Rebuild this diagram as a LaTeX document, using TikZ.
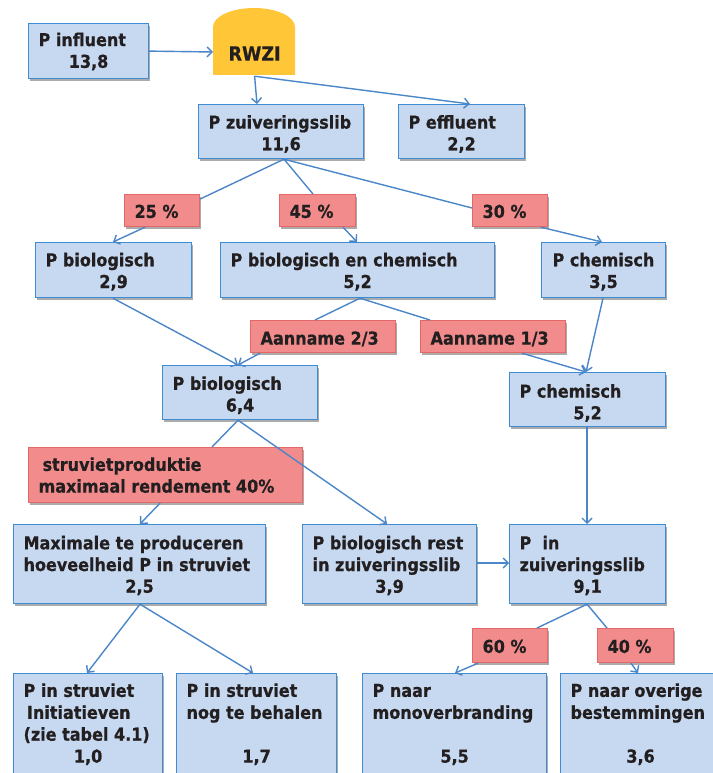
\documentclass[tikz,border=0pt]{standalone}
\usepackage{fontspec}
\newfontfamily\dfont{DejaVu Sans}[FakeStretch=0.9, BoldFeatures={FakeBold=0.6}]
\usetikzlibrary{arrows.meta,shadows,calc}
\definecolor{bfill}{RGB}{198,217,240}
\definecolor{bline}{RGB}{62,141,212}
\definecolor{rfill}{RGB}{242,140,140}
\definecolor{rline}{RGB}{228,104,104}
\definecolor{lcol}{RGB}{74,134,200}
\definecolor{gold}{RGB}{255,199,56}
\definecolor{tcol}{RGB}{35,31,32}
\newcommand\Ln[2][0pt]{\hbox to\linewidth{\kern#1\relax#2\hss}}
\newcommand\Cn[1]{\hbox to\linewidth{\hss#1\hss}}
\newcommand\T[2]{\vtop{\hsize=#1pt\linewidth=#1pt\relax#2}}
\begin{document}
\begin{tikzpicture}[x=1pt,y=-1pt,
  nbase/.style={anchor=north west, inner xsep=10pt, inner ysep=0pt, text=tcol, line width=1.2pt,
     font=\dfont\bfseries\fontsize{17.8}{21.7}\selectfont, text height=24pt},
  box/.style={nbase, draw=bline, fill=bfill, drop shadow={shadow xshift=1.8pt, shadow yshift=-2.4pt, fill=black!60, opacity=0.55}},
  lab/.style={nbase, draw=rline, fill=rfill, drop shadow={shadow xshift=1.8pt, shadow yshift=-2.4pt, fill=black!60, opacity=0.55}},
  conn/.style={draw=lcol, line width=1.4pt},
  arr/.style={conn, -{Straight Barb[length=5pt,width=10pt]}}
]
\useasboundingbox (0,0) rectangle (712,773);
% RWZI
\fill[gold] (213,75) -- (213,27) .. controls (213,16.5) and (231.4,8) .. (254,8) .. controls (276.6,8) and (295,16.5) .. (295,27) -- (295,75) -- cycle;
\node[nbase, font=\dfont\bfseries\fontsize{19.5}{22}\selectfont, text height=52pt, text depth=15pt] (rwzi) at (213,8) {\T{62}{\Cn{RWZI}}};

\node[box, text height=22.5pt, text depth=32.5pt] (infl) at (28,23) {\T{100}{\Ln{P influent}\Cn{13,8}}};
\node[box, text depth=30pt] (zuiv) at (198,104) {\T{145}{\Ln{P zuiveringsslib}\Cn{11,6}}};
\node[box, text depth=30pt] (effl) at (398,104) {\T{106}{\Ln{P effluent}\Cn{2,2}}};

\node[lab, text height=23.3pt, text depth=8.7pt] (l25) at (124,194) {\T{55}{\Ln{25 \%}}};
\node[lab, text height=23.3pt, text depth=8.7pt] (l45) at (279,194) {\T{56}{\Ln{45 \%}}};
\node[lab, text height=23.3pt, text depth=8.7pt] (l30) at (472,194) {\T{55}{\Ln{30 \%}}};

\node[box, text height=23.7pt, text depth=31.3pt] (biol29) at (35,242) {\T{136}{\Ln{P biologisch}\Cn{2,9}}};
\node[box, text height=23.7pt, text depth=31.3pt] (biolchem) at (220,242) {\T{254}{\Ln{P biologisch en chemisch}\Cn{5,2}}};
\node[box, text height=23.7pt, text depth=31.3pt] (chem35) at (541,242) {\T{104}{\Ln[1pt]{P chemisch}\Cn{3,5}}};

\node[lab, text depth=8pt] (a23) at (250,320) {\T{125}{\Ln{Aanname 2/3}}};
\node[lab, text depth=8pt] (a13) at (420,320) {\T{125}{\Ln{Aanname 1/3}}};

\node[box, text height=24.3pt, text depth=29.7pt] (biol64) at (162,365) {\T{135}{\Ln{P biologisch}\Cn{6,4}}};
\node[box, text height=25pt, text depth=29pt] (chem52) at (509,372) {\T{136}{\Ln{P chemisch}\Cn{5,2}}};

\node[lab, text height=23.3pt, text depth=31.7pt] (struv) at (28,447) {\T{254}{\Ln[4pt]{struvietproduktie}\Ln{maximaal rendement 40\%}}};

\node[box, text height=24.7pt, text depth=54.3pt] (max) at (13,524) {\T{232}{\Ln{Maximale te produceren}\Ln{hoeveelheid P in struviet}\Cn{2,5}}};
\node[box, text height=24.7pt, text depth=54.3pt] (rest) at (302,524) {\T{154}{\Ln{P biologisch rest}\Ln{in zuiveringsslib}\Cn{3,9}}};
\node[box, text height=24.7pt, text depth=54.3pt] (zuiv91) at (509,524) {\T{136}{\Ln{P\ \ in}\Ln{zuiveringsslib}\Cn{9,1}}};

\node[lab, text height=24.3pt, text depth=9.7pt] (l60) at (472,628) {\T{55}{\Ln{60 \%}}};
\node[lab, text height=24.3pt, text depth=9.7pt] (l40) at (597,628) {\T{56}{\Ln{40 \%}}};

\node[box, text height=23.3pt, text depth=86.7pt, font=\dfont\bfseries\fontsize{17.8}{21.9}\selectfont] (init) at (13,673) {\T{129}{\Ln{P in struviet}\Ln[3.4pt]{Initiatieven}\Ln{(zie tabel 4.1)}\Cn{1,0}}};
\node[box, text height=23.3pt, text depth=86.7pt, font=\dfont\bfseries\fontsize{17.8}{21.9}\selectfont] (nog) at (176,673) {\T{140}{\Ln{P in struviet}\Ln{nog te behalen}\hbox{}\Cn{1,7}}};
\node[box, text height=23.3pt, text depth=86.7pt, font=\dfont\bfseries\fontsize{17.8}{21.9}\selectfont] (mono) at (362,673) {\T{164}{\Ln{P naar}\Ln{monoverbranding}\hbox{}\Cn{5,5}}};
\node[box, text height=23.3pt, text depth=86.7pt, font=\dfont\bfseries\fontsize{17.8}{21.9}\selectfont] (over) at (560,673) {\T{140}{\Ln{P naar overige}\Ln{bestemmingen}\hbox{}\Cn{3,6}}};

% connectors
\draw[arr] (infl.east) -- (rwzi.west |- 0,52);
\draw[arr] (rwzi.south) -- (zuiv.north -| 257,0);
\draw[arr] (rwzi.south) -- (effl.north -| 470,0);
\coordinate (zs) at (zuiv.south -| 284,0);
\draw[conn] (zs) -- (l25.east |- 0,199);
\draw[conn] (zs) -- (l45.north -| 313,0);
\draw[conn] (zs) -- (l30.west |- 0,208);
\draw[arr] (l25.south -| 145,0) -- (biol29.north -| 113,0);
\draw[arr] (l45.south -| 343,0) -- (biolchem.north -| 357,0);
\draw[arr] (l30.south -| 541,0) -- (chem35.north -| 602,0);
\draw[arr] (biol29.south -| 113,0) -- (biol64.north -| 238,0);
\coordinate (bcs) at (biolchem.south -| 360,0);
\draw[conn] (bcs) -- (a23.north -| 315,0);
\draw[conn] (bcs) -- (a13.north -| 430,0);
\draw[arr] (a23.south -| 260,0) -- (biol64.north -| 238,0);
\draw[arr] (a13.south -| 522,0) -- (chem52.north -| 586,0);
\draw[arr] (chem35.south -| 603,0) -- (chem52.north -| 586,0);
\coordinate (b64s) at (biol64.south -| 238,0);
\draw[conn] (b64s) -- (struv.north -| 212,0);
\draw[arr] (struv.south -| 160,0) -- (max.north -| 140,0);
\draw[arr] (b64s) -- (rest.north -| 387,0);
\draw[arr] (chem52.south -| 587,0) -- (zuiv91.north -| 587,0);
\draw[arr] (rest.east |- 0,563) -- (zuiv91.west |- 0,563);
\coordinate (mxs) at (max.south -| 140,0);
\draw[arr] (mxs) -- (init.north -| 87,0);
\draw[arr] (mxs) -- (nog.north -| 253,0);
\coordinate (z9s) at (zuiv91.south -| 587,0);
\draw[conn] (z9s) -- (l60.north -| 537,0);
\draw[conn] (z9s) -- (l40.north -| 607,0);
\draw[arr] (l60.south -| 478,0) -- (mono.north -| 455,0);
\draw[arr] (l40.south -| 631,0) -- (over.north -| 638,0);
\end{tikzpicture}
\end{document}
